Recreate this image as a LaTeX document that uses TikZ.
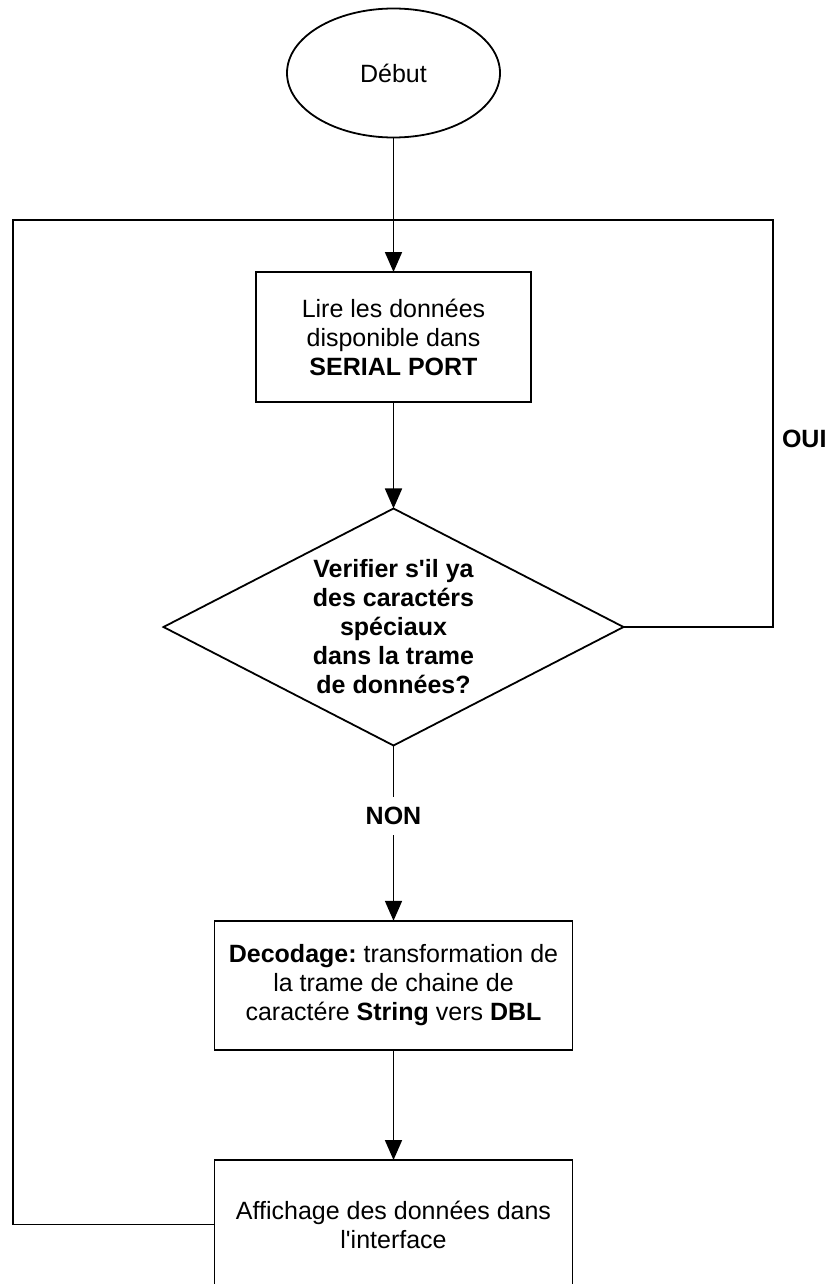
\documentclass[tikz,border=0pt]{standalone}
\usepackage{fontspec}
\setmainfont{Liberation Sans}
\usetikzlibrary{shapes.geometric,arrows.meta}
\newcommand\flowfont{\fontsize{25}{29}\selectfont\frenchspacing}
\begin{document}
\begin{tikzpicture}[x=1pt,y=-1pt,
  every node/.style={font=\flowfont, inner sep=0pt, outer sep=0pt},
  link/.style={draw=black, line width=1.8pt},
  flowarrow/.style={link, -{Triangle[length=20pt,width=17pt]}},
  procbox/.style={link, rectangle, align=center},
  startshape/.style={link, ellipse, minimum width=213pt, minimum height=129pt},
  testshape/.style={link, diamond, aspect=1.94, minimum width=460pt, minimum height=237pt,
                    align=center, font=\flowfont\bfseries},
  answer/.style={font=\flowfont\bfseries}]

\useasboundingbox (0,0) rectangle (829,1284);
\clip (0,0) rectangle (829,1284);

% flowchart blocks
\node[startshape] (start) at (393.5,73) {Début};
\node[procbox, minimum width=275pt, minimum height=130pt] (read) at (393.5,337)
  {Lire les données\\disponible dans\\\textbf{SERIAL PORT}};
\node[testshape] (test) at (393.5,627)
  {Verifier s\textquotesingle il ya\\des caractérs\\spéciaux\\dans la trame\\de données?};
\node[answer, minimum height=38pt] (no) at (393.5,816) {NON};
\node[answer, anchor=west] (yes) at (782,439) {OUI};
\node[procbox, minimum width=358pt, minimum height=129pt] (decode) at (393.5,985.3)
  {\textbf{Decodage:} transformation de\\la trame de chaine de\\caractére \textbf{String} vers \textbf{DBL}};
\node[procbox, minimum width=358pt, minimum height=129pt] (show) at (393.5,1224.5)
  {Affichage des données dans\\l\textquotesingle interface};

% corners of the feedback loop
\coordinate (top) at (393.5,220);
\coordinate (topleft) at (13,220);
\coordinate (topright) at (773.3,220);

% main flow
\draw[flowarrow] (start) -- (read);
\draw[flowarrow] (read) -- (test);
\draw[link] (test.south) -- (no.north);
\draw[flowarrow] (no.south) -- (decode.north);
\draw[flowarrow] (decode) -- (show);

% loops back to reading
\draw[link] (show.west) -| (topleft) -- (top);
\draw[link] (test.east) -| (topright) -- (top);
\end{tikzpicture}
\end{document}
